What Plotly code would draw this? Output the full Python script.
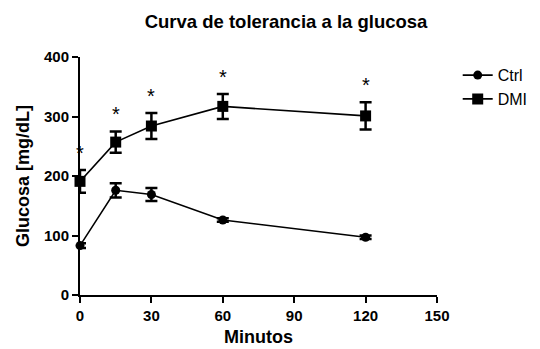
import plotly.graph_objects as go

minutes = [0, 15, 30, 60, 120]
ctrl_mean = [83, 176, 169, 126, 97]
ctrl_err = [4, 12, 11, 3, 3]
dmi_mean = [191, 257, 284, 317, 301]
dmi_err = [19, 18, 22, 21, 23]
signif = ["*", "*", "*", "*", "*"]
x_ticks = [0, 30, 60, 90, 120, 150]
y_ticks = [0, 100, 200, 300, 400]

font = "Arial, Liberation Sans, sans-serif"

fig = go.Figure()
fig.add_trace(go.Scatter(
    x=minutes, y=ctrl_mean, name="Ctrl", mode="lines+markers",
    line=dict(color="black", width=1.6),
    marker=dict(symbol="circle", size=9, color="black"),
    error_y=dict(type="data", array=ctrl_err, color="black", thickness=2.5, width=6),
    cliponaxis=False,
))
fig.add_trace(go.Scatter(
    x=minutes, y=dmi_mean, name="DMI", mode="lines+markers",
    line=dict(color="black", width=1.6),
    marker=dict(symbol="square", size=11, color="black"),
    error_y=dict(type="data", array=dmi_err, color="black", thickness=2.5, width=6),
    cliponaxis=False,
))

for xv, m, e, s in zip(minutes, dmi_mean, dmi_err, signif):
    fig.add_annotation(x=xv, y=m + e, text=s, showarrow=False,
                       yanchor="bottom", yshift=4,
                       font=dict(family=font, size=20, color="black"))

fig.update_layout(
    width=540, height=349,
    margin=dict(l=80, r=103, t=57, b=54, autoexpand=False),
    paper_bgcolor="white", plot_bgcolor="white",
    title=dict(text="<b>Curva de tolerancia a la glucosa</b>", x=286 / 540, xanchor="center",
               y=1 - 22 / 349, yanchor="middle",
               font=dict(family=font, size=18.5, color="black")),
    font=dict(family=font, color="black"),
    legend=dict(x=1.058, y=0.995, xanchor="left", yanchor="top",
                font=dict(family=font, size=16, color="black"),
                bgcolor="rgba(0,0,0,0)", itemwidth=30, tracegroupgap=2),
    showlegend=True,
)
fig.update_xaxes(
    range=[0, 150], tickvals=x_ticks, ticktext=[f"<b>{v}</b>" for v in x_ticks],
    showline=True, linecolor="black", linewidth=2, showgrid=False, zeroline=False,
    ticks="outside", ticklen=6, tickwidth=2, tickcolor="black",
    tickfont=dict(family=font, size=15, color="black"),
    automargin=False,
    title=dict(text="<b>Minutos</b>", font=dict(family=font, size=18, color="black"), standoff=7),
)
fig.update_yaxes(
    range=[0, 400], tickvals=y_ticks, ticktext=[f"<b>{v}</b>" for v in y_ticks],
    showline=True, linecolor="black", linewidth=2, showgrid=False, zeroline=False,
    ticks="outside", ticklen=6, tickwidth=2, tickcolor="black",
    tickfont=dict(family=font, size=15, color="black"),
    automargin=False,
    title=dict(text="<b>Glucosa [mg/dL]</b>", font=dict(family=font, size=18, color="black"), standoff=10),
)

fig.write_html("out.html")
